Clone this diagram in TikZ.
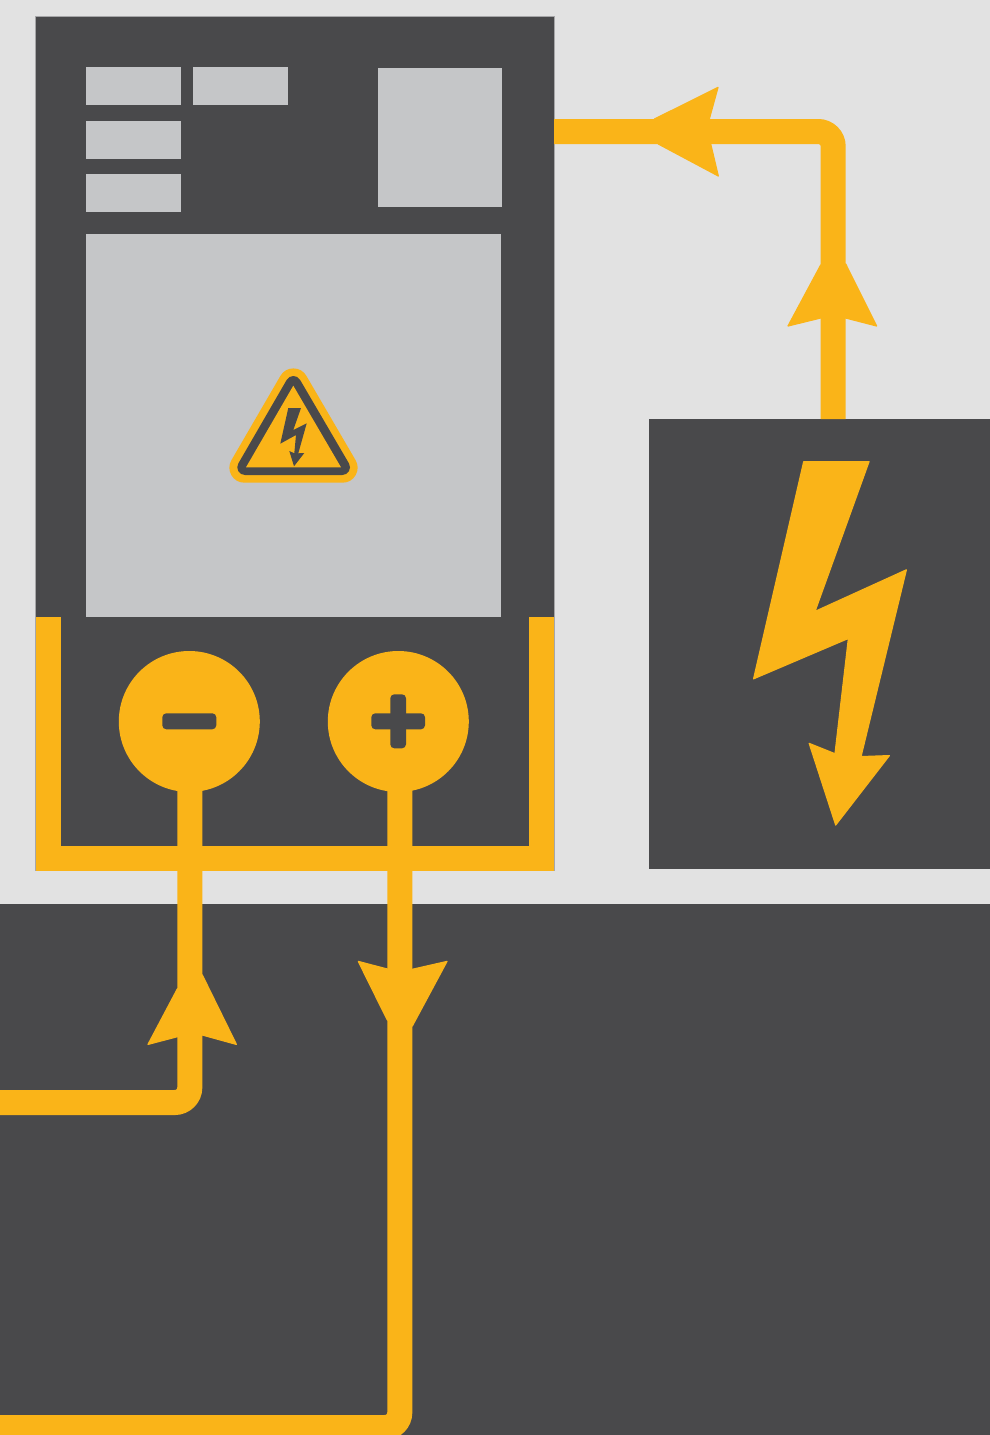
\documentclass[tikz,border=0pt]{standalone}
\definecolor{paper}{HTML}{E2E2E2}
\definecolor{slate}{HTML}{49494B}
\definecolor{panel}{HTML}{C5C6C8}
\definecolor{amber}{HTML}{FAB418}
\definecolor{edge}{HTML}{A6A6A8}
\tikzset{
  block/.style={fill=slate,draw=none,inner sep=0pt,outer sep=0pt,anchor=north west},
  lightbox/.style={fill=panel,draw=none,inner sep=0pt,outer sep=0pt,anchor=north west},
  terminal/.style={circle,fill=amber,draw=none,inner sep=0pt,outer sep=0pt,minimum size=141pt},
  wire/.style={draw=amber,line width=25pt,line cap=butt,line join=miter,rounded corners=15pt},
  head/.style={fill=amber,draw=amber,line width=1.2pt,line join=round},
  glyph/.style={fill=slate,rounded corners=4pt},
}
\begin{document}
\begin{tikzpicture}[x=1pt,y=-1pt]
\useasboundingbox (0,0) rectangle (990,1435);
\clip (0,0) rectangle (990,1435);
\fill[paper] (0,0) rectangle (990,1435);

% large panels
\node[block,minimum width=990pt,minimum height=531.3pt] (floor) at (0,903.7) {};
\node[block,minimum width=341pt,minimum height=449.7pt] (source) at (649,419) {};
\node[block,draw=edge,line width=0.7pt,minimum width=518.6pt,minimum height=854pt] (meter) at (35.7,16.7) {};

% display areas
\node[lightbox,minimum width=95pt,minimum height=38pt] (cellA) at (86,67) {};
\node[lightbox,minimum width=95pt,minimum height=38pt] (cellB) at (193,67) {};
\node[lightbox,minimum width=95pt,minimum height=38pt] (cellC) at (86,121) {};
\node[lightbox,minimum width=95pt,minimum height=38pt] (cellD) at (86,174) {};
\node[lightbox,minimum width=124pt,minimum height=139pt] (cellE) at (378,68) {};
\node[lightbox,minimum width=415pt,minimum height=383pt] (screen) at (86,234) {};

% warning sign
\draw[fill=amber,draw=amber,line width=30pt,line join=round]
  (293.4,383.4) -- (244.4,467.7) -- (342.6,467.7) -- cycle;
\draw[fill=slate,draw=slate,line width=15.4pt,line join=round]
  (293.4,383.7) -- (245,467.3) -- (342.3,467.3) -- cycle;
\fill[amber] (293.3,385.7) -- (246,467.3) -- (341,467.3) -- cycle;
\fill[slate] (288.3,408) -- (301,408) -- (293.3,430) -- (306.7,423.3) -- (298.3,453.3)
  -- (304.3,453) -- (294,466.3) -- (289.3,451) -- (294.3,453.3) -- (296,435) -- (280.3,443.7) -- cycle;

% frame around the terminals
\coordinate (frameL) at (48.2,617.3);
\coordinate (frameBL) at (48.2,858.2);
\coordinate (frameBR) at (541.7,858.2);
\coordinate (frameR) at (541.7,617.3);
\draw[draw=amber,line width=25pt,line cap=butt,line join=miter] (frameL) -- (frameBL) -- (frameBR) -- (frameR);

% terminals
\node[terminal] (minus) at (189.3,721.5) {};
\node[terminal] (plus) at (398.3,721.5) {};
\fill[glyph] (162.3,713.3) rectangle (216.3,729.3);
\fill[glyph] (371.3,713.3) rectangle (425,729.3);
\fill[glyph] (390.3,694.3) rectangle (406,748.3);

% wires
\coordinate (minusOut) at (189.8,775);
\coordinate (minusBend) at (189.8,1102.5);
\coordinate (minusEnd) at (0,1102.5);
\coordinate (plusOut) at (399.8,775);
\coordinate (plusBend) at (399.8,1427.5);
\coordinate (plusEnd) at (0,1427.5);
\coordinate (feedStart) at (833.2,419);
\coordinate (feedBend) at (833.2,131.5);
\coordinate (feedEnd) at (554,131.5);
\draw[wire] (minusEnd) -- (minusBend) -- (minusOut);
\draw[wire] (plusOut) -- (plusBend) -- (plusEnd);
\draw[wire] (feedStart) -- (feedBend) -- (feedEnd);

% arrowheads
\path[head] (820.7,265) -- (788,326) -- (820.7,318) -- (845.7,318) -- (876.6,326) -- (845.7,264) -- cycle;
\path[head] (654.5,119) -- (718,87.4) -- (709.3,119) -- (710.7,144) -- (718.3,176) -- (658.3,144) -- cycle;
\path[head] (177.3,989) -- (148,1044.4) -- (177.3,1036.7) -- (202.3,1035) -- (236.4,1044.4) -- (202.3,975) -- cycle;
\path[head] (358.3,961.4) -- (387.3,969) -- (412.3,969.3) -- (447,961.4) -- (412.3,1026) -- (387.3,1020) -- cycle;

% lightning bolt
\path[head] (803.7,461.7) -- (869,461.7) -- (815,611.4) -- (906.4,569.8) -- (861,756.6)
  -- (889.4,755.6) -- (835.7,825) -- (809.2,743.4) -- (835,753.7) -- (848.4,638.4)
  -- (753.6,678.8) -- cycle;
\end{tikzpicture}
\end{document}
